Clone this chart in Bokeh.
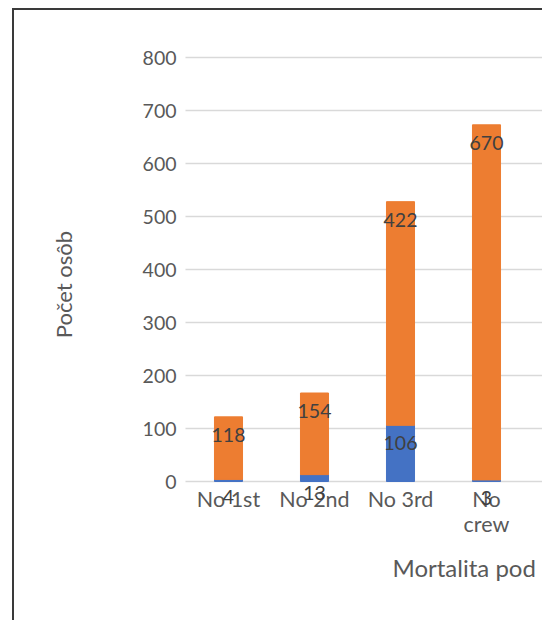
import math
from bokeh.plotting import figure
from bokeh.models import Range1d, ColumnDataSource, Label
from bokeh.core.properties import value
from bokeh.embed import file_html
from bokeh.resources import INLINE

categories = ["No 1st", "No 2nd", "No 3rd", "No\ncrew"]
blue_vals = [4, 13, 106, 3]
orange_vals = [118, 154, 422, 670]
y_ticks = [0, 100, 200, 300, 400, 500, 600, 700, 800]
y_tick_labels = [str(t) for t in y_ticks]

BLUE = "#4472C4"
ORANGE = "#ED7D31"
FONT = "Lato"

# layout: px per category and px per 100 units, as measured
CAT_PX = 86
UNIT_PX = 0.53
X_START = -171 / CAT_PX
X_END = 359 / CAT_PX

xs = [i + 0.5 for i in range(len(categories))]
tops = [b + o for b, o in zip(blue_vals, orange_vals)]
src = ColumnDataSource(dict(x=xs, blue=blue_vals, orange=orange_vals, top=tops,
                            cat=categories, zero=[0] * len(xs),
                            blue_lbl=[str(v) for v in blue_vals],
                            orange_lbl=[str(v) for v in orange_vals]))
tick_src = ColumnDataSource(dict(y=y_ticks, lbl=y_tick_labels,
                                 x0=[0] * len(y_ticks), x1=[X_END] * len(y_ticks)))

p = figure(width=530, height=612, output_backend="svg", toolbar_location=None,
           x_range=Range1d(X_START, X_END),
           y_range=Range1d(-266, 800 + 47 / UNIT_PX),
           min_border=0, outline_line_color=None,
           styles={"border-left": "2px solid #3a3a3a", "border-top": "2px solid #3a3a3a"},
           margin=(8, 0, 0, 12))
p.xaxis.visible = False
p.yaxis.visible = False
p.xgrid.grid_line_color = None
p.ygrid.grid_line_color = None

# gridlines
p.segment(x0="x0", x1="x1", y0="y", y1="y", source=tick_src,
          line_color="#d9d9d9", line_width=1.5)
# y tick labels
p.text(x="x0", y="y", text="lbl", source=tick_src, text_align="right",
       text_baseline="middle", x_offset=-9, text_font_size="19.5px",
       text_color="#595959", text_font=value(FONT))

p.vbar(x="x", bottom=0, top="blue", width=0.326, color=BLUE, source=src)
p.vbar(x="x", bottom="blue", top="top", width=0.326, color=ORANGE, source=src)

# category labels
p.text(x="x", y="zero", text="cat", source=src, text_align="center",
       text_baseline="top", y_offset=4, text_font_size="21.5px", text_color="#595959",
       text_font=value(FONT), text_line_height=0.97)

p.text(x="x", y="top", text="orange_lbl", source=src, text_align="center",
       text_baseline="top", y_offset=11, text_font_size="19.5px", text_color="#404040",
       text_font=value(FONT))
p.text(x="x", y="blue", text="blue_lbl", source=src, text_align="center",
       text_baseline="top", y_offset=11, text_font_size="19.5px", text_color="#404040",
       text_font=value(FONT))

p.add_layout(Label(x=(392 - 185) / CAT_PX, y=(481 - 567) / UNIT_PX, text="Mortalita pod",
                   text_font=FONT, text_font_size="24px", text_color="#595959",
                   text_baseline="middle", text_align="left"))
p.add_layout(Label(x=(63 - 185) / CAT_PX, y=(481 - 284) / UNIT_PX, text="Počet osôb",
                   angle=math.pi / 2, text_font=FONT, text_font_size="22px",
                   text_color="#595959", text_baseline="middle", text_align="center"))

open("out.html", "w").write(file_html(p, INLINE))
